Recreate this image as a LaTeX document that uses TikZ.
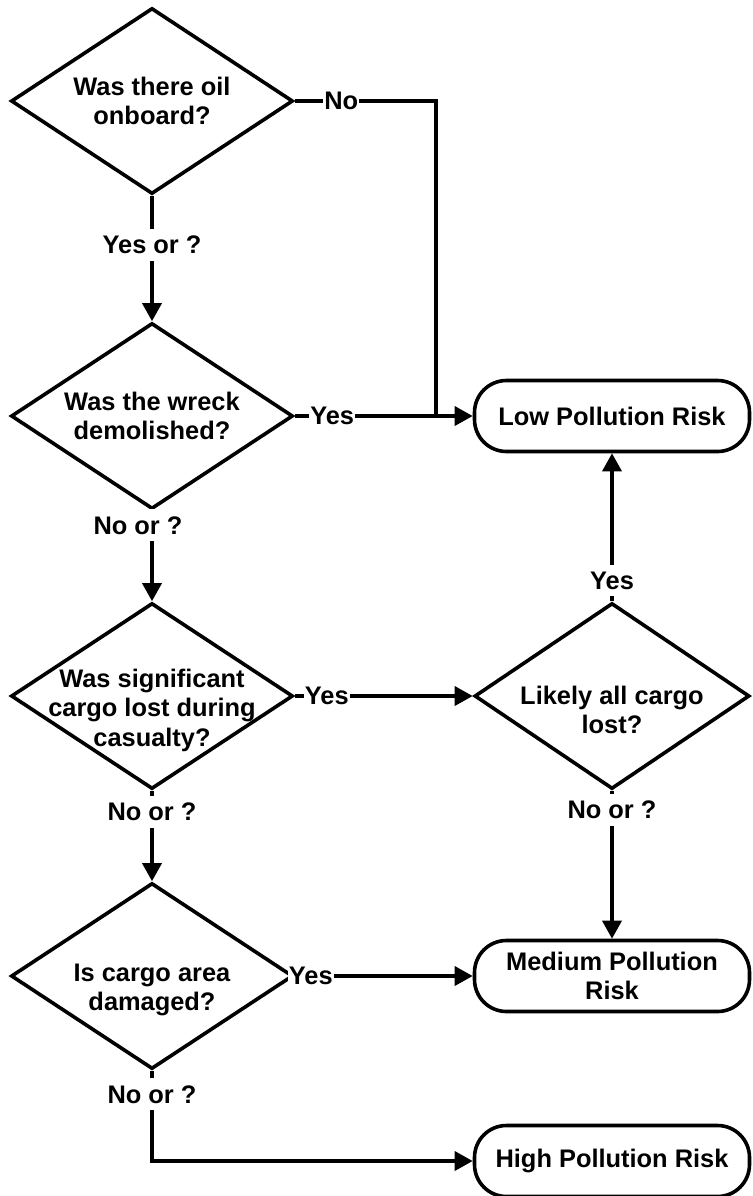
\documentclass[tikz,border=0pt]{standalone}
\usepackage{fontspec}
\setmainfont{Liberation Sans}
\usetikzlibrary{shapes.geometric,arrows.meta}

\tikzset{
  every node/.style={font=\fontsize{12.7pt}{14.75pt}\selectfont\bfseries},
  qtext/.style={align=center},
  decision/.style={diamond, draw, fill=white, line width=1.8pt,
    minimum width=141pt, minimum height=93pt, inner sep=0pt,
    label={[qtext]center:#1}},
  decisionlow/.style={diamond, draw, fill=white, line width=1.8pt,
    minimum width=141pt, minimum height=93pt, inner sep=0pt,
    label={[qtext,yshift=-7pt]center:#1}},
  outcome/.style={rectangle, draw, fill=white, rounded corners=16pt,
    line width=1.8pt, minimum width=137.5pt, minimum height=35.5pt,
    inner sep=0pt, align=center},
  line/.style={line width=1.8pt},
  arrow/.style={line, -{Triangle[length=9pt,width=9.5pt]}},
  elabel/.style={fill=white, inner xsep=0.5pt, inner ysep=3.5pt}
}

\begin{document}
\begin{tikzpicture}[x=0.5pt, y=-0.5pt]
    \fill[white] (0,0) rectangle (752,1196);
    \useasboundingbox (0,0) rectangle (752,1196);

    % Questions
    \node[decision={Was there oil\\onboard?}] (oil) at (152,101) {};
    \node[decision={Was the wreck\\demolished?}] (wreck) at (152,416) {};
    \node[decisionlow={Was significant\\cargo lost during\\casualty?}] (lost) at (152,696) {};
    \node[decisionlow={Likely all cargo\\lost?}, minimum width=137.5pt] (allcargo) at (612,696) {};
    \node[decisionlow={Is cargo area\\damaged?}] (damaged) at (152,976) {};

    % Outcomes
    \node[outcome] (low) at (612,416) {Low Pollution Risk};
    \node[outcome] (medium) at (612,976) {Medium Pollution\\Risk};
    \node[outcome] (high) at (612,1161) {High Pollution Risk};

    % Connectors
    \draw[arrow] (oil) -- node[elabel, pos=0.39] (oilyes) {Yes or ?} (wreck);
    \draw[line] (oil.east) -- node[elabel, pos=0.33] (oilno) {No} ++(141,0)
        coordinate (nocorner) -- (nocorner |- low.west);
    \draw[arrow] (wreck) -- node[elabel, pos=0.21] (wreckyes) {Yes} (low);
    \draw[arrow] (wreck) -- node[elabel, pos=0.16, xshift=-7pt] (wreckno) {No or ?} (lost);
    \draw[arrow] (lost) -- node[elabel, pos=0.18] (lostyes) {Yes} (allcargo);
    \draw[arrow] (allcargo) -- node[elabel, pos=0.14] (allyes) {Yes} (low);
    \draw[arrow] (allcargo) -- node[elabel, pos=0.13] (allno) {No or ?} (medium);
    \draw[arrow] (lost) -- node[elabel, pos=0.23] (lostno) {No or ?} (damaged);
    \draw[arrow] (damaged) -- node[elabel, pos=0.09] (damyes) {Yes} (medium);
    \draw[arrow] (damaged) |- node[elabel, pos=0.13] (damno) {No or ?} (high);
\end{tikzpicture}
\end{document}
